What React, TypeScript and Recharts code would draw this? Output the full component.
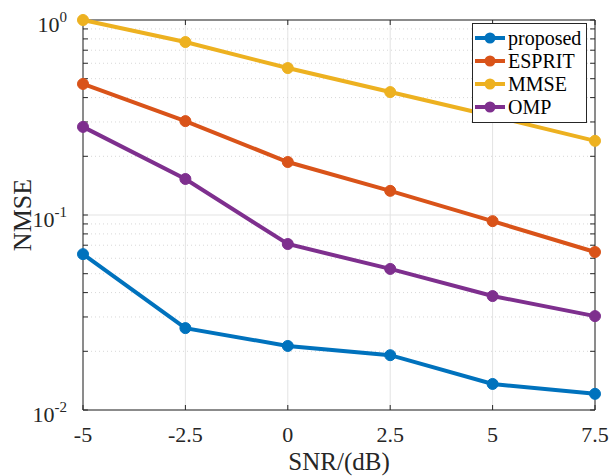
import React from 'react';
import { LineChart, Line, XAxis, YAxis, CartesianGrid, ReferenceLine } from 'recharts';

const snr = [-5, -2.5, 0, 2.5, 5, 7.5];
const proposed = [0.063, 0.0263, 0.0213, 0.0191, 0.0136, 0.0121];
const esprit = [0.47, 0.303, 0.187, 0.133, 0.093, 0.0646];
const mmse = [1.0, 0.771, 0.567, 0.427, 0.322, 0.24];
const omp = [0.283, 0.153, 0.071, 0.0529, 0.0384, 0.0303];
const yTicks = [0.01, 0.1, 1];
const minorTicks = [2, 3, 4, 5, 6, 7, 8, 9].flatMap((m) => [m * 0.01, m * 0.1]);

const SERIES = [
  { key: 'proposed', name: 'proposed', color: '#0072BD' },
  { key: 'esprit', name: 'ESPRIT', color: '#D95319' },
  { key: 'mmse', name: 'MMSE', color: '#EDB120' },
  { key: 'omp', name: 'OMP', color: '#7E2F8E' },
];

const data = snr.map((x, i) => ({
  snr: x,
  proposed: proposed[i],
  esprit: esprit[i],
  mmse: mmse[i],
  omp: omp[i],
}));

const FONT = '"Liberation Serif", serif';
const AXIS = '#262626';

const XTick = ({ x, y, payload }: any) => (
  <text x={x} y={y + 24} textAnchor="middle" fontFamily="Liberation Serif" fontSize={22} fill={AXIS}>
    {payload.value}
  </text>
);

const YTick = ({ x, y, payload }: any) => {
  const exp = Math.round(Math.log10(payload.value));
  return (
    <text x={x - 8} y={y + 12} textAnchor="end" fontFamily="Liberation Serif" fontSize={22} fill={AXIS}>
      10
      <tspan dy={-10} fontSize={15}>{exp}</tspan>
    </text>
  );
};

const LegendBox = () => (
  <div
    style={{
      position: 'absolute',
      left: 472,
      top: 23,
      border: '1px solid #262626',
      background: '#fff',
      width: 113,
      padding: '2px 0 4px',
      fontFamily: FONT,
      fontSize: 20,
      color: '#000',
    }}
  >
    {SERIES.map((s) => (
      <div key={s.key} style={{ display: 'flex', alignItems: 'center', height: 23 }}>
        <svg width={34} height={14} style={{ marginLeft: 1 }}>
          <line x1={1} y1={7} x2={31} y2={7} stroke={s.color} strokeWidth={4} />
          <circle cx={16} cy={7} r={5.5} fill={s.color} />
        </svg>
        <span style={{ lineHeight: '20px' }}>{s.name}</span>
      </div>
    ))}
  </div>
);

export default function App() {
  const xt = 0.12;
  const yt = Math.pow(10, 5 / 195);
  return (
    <div style={{ position: 'absolute', left: 0, top: 0, width: 610, height: 476, background: '#fff' }}>
      <LineChart width={610} height={476} data={data} margin={{ top: 20, right: 15, bottom: 4, left: 0 }}>
        <CartesianGrid stroke="#e3e3e3" strokeWidth={1} />
        {minorTicks.map((v) => (
          <ReferenceLine key={`m${v}`} y={v} stroke="#d8d8d8" strokeDasharray="1 3" />
        ))}
        <XAxis
          dataKey="snr"
          type="number"
          domain={[-5, 7.5]}
          ticks={snr}
          interval={0}
          height={62}
          tickLine={false}
          stroke={AXIS}
          tick={<XTick />}
          label={{ value: 'SNR/(dB)', position: 'insideBottom', offset: 2, fill: AXIS, style: { fontFamily: FONT, fontSize: 25 } }}
        />
        <YAxis
          scale="log"
          domain={[0.01, 1]}
          ticks={yTicks}
          width={83}
          tickLine={false}
          stroke={AXIS}
          tick={<YTick />}
          label={{ value: 'NMSE', angle: -90, position: 'insideLeft', offset: 22, fill: AXIS, style: { textAnchor: 'middle', fontFamily: FONT, fontSize: 26 } }}
        />
        <ReferenceLine y={1} stroke={AXIS} />
        <ReferenceLine x={7.5} stroke={AXIS} />
        {[...minorTicks, ...yTicks].map((v) => (
          <ReferenceLine key={`l${v}`} segment={[{ x: -5, y: v }, { x: -5 + xt, y: v }]} stroke={AXIS} />
        ))}
        {[...minorTicks, ...yTicks].map((v) => (
          <ReferenceLine key={`r${v}`} segment={[{ x: 7.5 - xt, y: v }, { x: 7.5, y: v }]} stroke={AXIS} />
        ))}
        {snr.map((v) => (
          <ReferenceLine key={`b${v}`} segment={[{ x: v, y: 0.01 }, { x: v, y: 0.01 * yt }]} stroke={AXIS} />
        ))}
        {snr.map((v) => (
          <ReferenceLine key={`t${v}`} segment={[{ x: v, y: 1 / yt }, { x: v, y: 1 }]} stroke={AXIS} />
        ))}
        {SERIES.map((s) => (
          <Line
            key={s.key}
            dataKey={s.key}
            name={s.name}
            stroke={s.color}
            strokeWidth={4}
            dot={{ r: 5.5, fill: s.color, stroke: s.color, strokeWidth: 1 }}
            isAnimationActive={false}
          />
        ))}
      </LineChart>
      <LegendBox />
    </div>
  );
}
